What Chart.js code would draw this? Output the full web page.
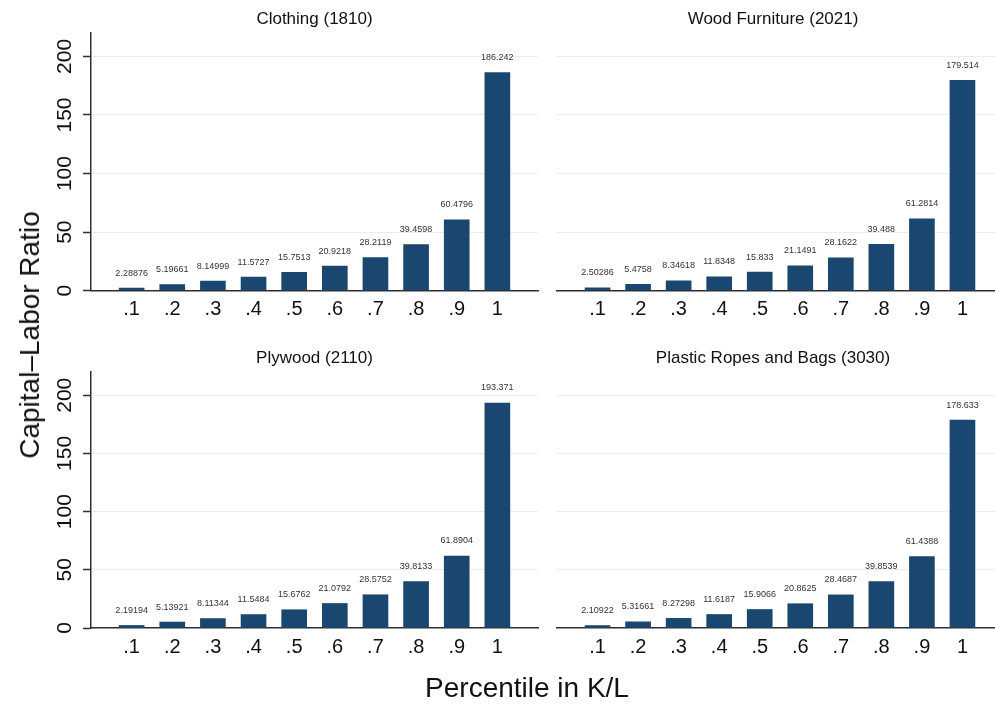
<!DOCTYPE html>
<html>
<head>
<meta charset="utf-8">
<script src="https://cdn.jsdelivr.net/npm/chart.js@4/dist/chart.umd.min.js"></script>
<style>
  html, body { margin: 0; padding: 0; background: #fff; overflow: hidden; width: 995px; height: 704px; }
  body { position: relative; font-family: "Liberation Sans", Arial, sans-serif; }
  canvas { position: absolute; }
  .ttl { position: absolute; font-size: 17px; color: #111; white-space: nowrap; transform: translate(-50%, -50%); line-height: 1; }
  .axt { position: absolute; font-size: 28px; color: #111; white-space: nowrap; line-height: 1; }
</style>
</head>
<body>
<canvas id="c1" width="545" height="345" style="left:0px;top:0px"></canvas>
<canvas id="c2" width="460" height="345" style="left:550px;top:0px"></canvas>
<canvas id="c3" width="545" height="345" style="left:0px;top:339px"></canvas>
<canvas id="c4" width="460" height="345" style="left:550px;top:339px"></canvas>

<div class="ttl" style="left:314.5px;top:18px">Clothing (1810)</div>
<div class="ttl" style="left:773px;top:18px">Wood Furniture (2021)</div>
<div class="ttl" style="left:314.5px;top:357px">Plywood (2110)</div>
<div class="ttl" style="left:773px;top:357px">Plastic Ropes and Bags (3030)</div>
<div class="axt" style="left:30px;top:335px;transform:translate(-50%,-50%) rotate(-90deg)">Capital–Labor Ratio</div>
<div class="axt" style="left:527px;top:688px;transform:translate(-50%,-50%)">Percentile in K/L</div>

<script>
const percentiles = ['.1', '.2', '.3', '.4', '.5', '.6', '.7', '.8', '.9', '1'];
const clothing = [2.28876, 5.19661, 8.14999, 11.5727, 15.7513, 20.9218, 28.2119, 39.4598, 60.4796, 186.242];
const woodFurniture = [2.50286, 5.4758, 8.34618, 11.8348, 15.833, 21.1491, 28.1622, 39.488, 61.2814, 179.514];
const plywood = [2.19194, 5.13921, 8.11344, 11.5484, 15.6762, 21.0792, 28.5752, 39.8133, 61.8904, 193.371];
const plasticRopes = [2.10922, 5.31661, 8.27298, 11.6187, 15.9066, 20.8625, 28.4687, 39.8539, 61.4388, 178.633];
const yTicks = [0, 50, 100, 150, 200];

const FONT = '"Liberation Sans", Arial, sans-serif';
const BAR = '#1a476f';
const AXIS = '#2e2e2e';
const GRID = '#e6eef0';

const valueLabels = {
  id: 'valueLabels',
  afterDatasetsDraw(chart) {
    const ctx = chart.ctx;
    const meta = chart.getDatasetMeta(0);
    const data = chart.data.datasets[0].data;
    ctx.save();
    ctx.font = '9px ' + FONT;
    ctx.fillStyle = '#333';
    ctx.textAlign = 'center';
    ctx.textBaseline = 'middle';
    meta.data.forEach((el, i) => {
      const v = data[i];
      if (v === null || v === undefined) return;
      const txt = String(Number(v.toPrecision(6)));
      ctx.fillText(txt, el.x, el.y - 15);
    });
    ctx.restore();
  }
};

function makeChart(id, values, showY, padLeft, padRight, xHeight, yWidth) {
  const labels = [''].concat(percentiles, ['']);
  const data = [null].concat(values, [null]);
  return new Chart(document.getElementById(id), {
    type: 'bar',
    data: {
      labels: labels,
      datasets: [{ data: data, backgroundColor: BAR, borderWidth: 0, barThickness: 25 }]
    },
    options: {
      responsive: false,
      animation: false,
      events: [],
      layout: { padding: { left: padLeft, right: padRight, top: 33, bottom: 0 } },
      plugins: { legend: { display: false }, tooltip: { enabled: false }, title: { display: false } },
      scales: {
        x: {
          type: 'category',
          offset: false,
          grid: { display: false, drawTicks: false },
          border: { display: true, color: AXIS, width: 1.5 },
          ticks: { font: { family: FONT, size: 20 }, color: '#111', padding: 7, autoSkip: false, maxRotation: 0, minRotation: 0 },
          afterFit(s) { s.height = xHeight; }
        },
        y: {
          min: 0,
          max: 220,
          afterBuildTicks(s) { s.ticks = yTicks.map(v => ({ value: v })); },
          grid: {
            color: ctx => (ctx.tick && ctx.tick.value === 0) ? 'rgba(0,0,0,0)' : GRID,
            lineWidth: 1,
            drawTicks: showY,
            tickLength: 8,
            tickColor: AXIS,
            tickWidth: 1.5
          },
          border: { display: showY, color: AXIS, width: 1.5 },
          ticks: {
            display: showY,
            font: { family: FONT, size: 21 },
            color: '#111',
            padding: 0,
            minRotation: 90,
            maxRotation: 90,
            crossAlign: 'center'
          },
          afterFit(s) { s.width = yWidth; }
        }
      }
    },
    plugins: [valueLabels]
  });
}

makeChart('c1', clothing, true, 45, 7, 54.3, 46);
makeChart('c2', woodFurniture, false, 7, 6, 54.3, 0);
makeChart('c3', plywood, true, 45, 7, 56, 46);
makeChart('c4', plasticRopes, false, 7, 6, 56, 0);
</script>
</body>
</html>
